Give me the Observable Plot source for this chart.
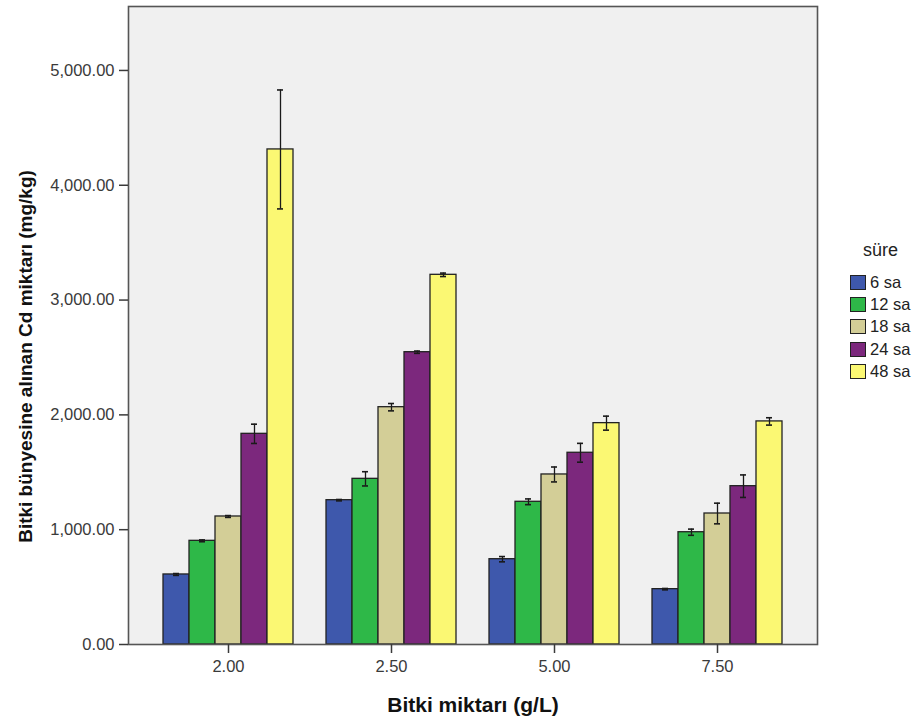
<!DOCTYPE html>
<html><head><meta charset="utf-8">
<script src="https://cdn.jsdelivr.net/npm/d3@7"></script>
<script src="https://cdn.jsdelivr.net/npm/@observablehq/plot@0.6"></script>
<style>
body{margin:0;background:#fff;font-family:Arial,"Liberation Sans",sans-serif;}
#wrap{position:relative;width:917px;height:722px;}
#legend{position:absolute;left:850px;top:240px;color:#222;font-size:16.5px;}
#legend .title{margin-left:13px;font-size:18px;margin-bottom:10px;}
#legend .row{display:flex;align-items:center;height:22.3px;}
#legend .sw{width:16px;height:15px;border:1px solid #222;margin-right:4px;box-sizing:border-box;}
</style></head><body><div id="wrap"></div>
<script>
const concentrations = ["2.00", "2.50", "5.00", "7.50"];
const series = ["6 sa", "12 sa", "18 sa", "24 sa", "48 sa"];
const colors = ["#3e58ac", "#2eb848", "#d3ce97", "#7c287d", "#fbf873"];
const values200 = [610, 903, 1115, 1835, 4312];
const values250 = [1257, 1443, 2067, 2546, 3220];
const values500 = [743, 1243, 1481, 1670, 1928];
const values750 = [482, 978, 1141, 1379, 1943];
const errors200 = [8, 8, 8, 84, 518];
const errors250 = [6, 62, 32, 10, 15];
const errors500 = [23, 25, 65, 82, 61];
const errors750 = [6, 27, 90, 98, 32];
const yTicks = [0, 1000, 2000, 3000, 4000, 5000];
const yTitle = "Bitki bünyesine alınan Cd miktarı (mg/kg)";
const xTitle = "Bitki miktarı (g/L)";
const legendTitle = "süre";

const valueSets = [values200, values250, values500, values750];
const errorSets = [errors200, errors250, errors500, errors750];
const data = [];
concentrations.forEach((c, i) => series.forEach((s, j) => {
  const v = valueSets[i][j], e = errorSets[i][j];
  data.push({conc: c, series: s, value: v, lo: v - e, hi: v + e});
}));

const fxPadInner = 0.1918, fxPadOuter = 0.2082;
const plotW = 917 - 127 - 100;
const fxStep = plotW / (concentrations.length - fxPadInner + 2 * fxPadOuter);
const axisShift = -fxPadOuter * fxStep;

const chart = Plot.plot({
  width: 917, height: 722,
  marginLeft: 127, marginRight: 100, marginTop: 6, marginBottom: 78,
  style: {fontFamily: "Arial, 'Liberation Sans', sans-serif", background: "transparent", color: "#3a3a3a"},
  fx: {domain: concentrations, paddingInner: fxPadInner, paddingOuter: fxPadOuter, label: null},
  x: {domain: series, padding: 0, axis: null},
  y: {domain: [0, 5557]},
  color: {domain: series, range: colors},
  marks: [
    Plot.frame({facet: "super", fill: "#f0f0f0", insetLeft: axisShift, insetRight: axisShift}),
    Plot.barY(data, {fx: "conc", x: "series", y: "value", fill: "series", stroke: "#222", strokeWidth: 1.3}),
    Plot.ruleX(data, {fx: "conc", x: "series", y1: "lo", y2: "hi", stroke: "#1a1a1a", strokeWidth: 1.3}),
    Plot.tickY(data, {fx: "conc", x: "series", y: "lo", insetLeft: 10, insetRight: 10, stroke: "#1a1a1a", strokeWidth: 1.6}),
    Plot.tickY(data, {fx: "conc", x: "series", y: "hi", insetLeft: 10, insetRight: 10, stroke: "#1a1a1a", strokeWidth: 1.6}),
    Plot.frame({facet: "super", stroke: "#555", strokeWidth: 1.6, insetLeft: axisShift, insetRight: axisShift}),
    Plot.axisY({ticks: yTicks, tickFormat: d3.format(",.2f"), tickSize: 9, tickPadding: 5, fontSize: 16.5, label: null, strokeWidth: 1.5, dx: axisShift}),
    Plot.axisFx({anchor: "bottom", tickSize: 9, tickPadding: 7, fontSize: 16.5, label: null, strokeWidth: 1.5}),
    Plot.text([yTitle], {facet: "super", text: d => d, frameAnchor: "left", textAnchor: "middle", lineAnchor: "middle", dx: 24 - 127 + axisShift, dy: 31, rotate: -90, fontWeight: "bold", fontSize: 19, fill: "#111"}),
    Plot.text([xTitle], {facet: "super", text: d => d, frameAnchor: "bottom", textAnchor: "middle", lineAnchor: "middle", dy: 61, fontWeight: "bold", fontSize: 21, fill: "#111"})
  ]
});
const wrap = document.getElementById("wrap");
wrap.appendChild(chart);

const legend = document.createElement("div");
legend.id = "legend";
const t = document.createElement("div");
t.className = "title"; t.textContent = legendTitle;
legend.appendChild(t);
series.forEach((s, i) => {
  const r = document.createElement("div"); r.className = "row";
  const sw = document.createElement("div"); sw.className = "sw"; sw.style.background = colors[i];
  const lb = document.createElement("span"); lb.textContent = s;
  r.appendChild(sw); r.appendChild(lb); legend.appendChild(r);
});
wrap.appendChild(legend);
</script></body></html>
